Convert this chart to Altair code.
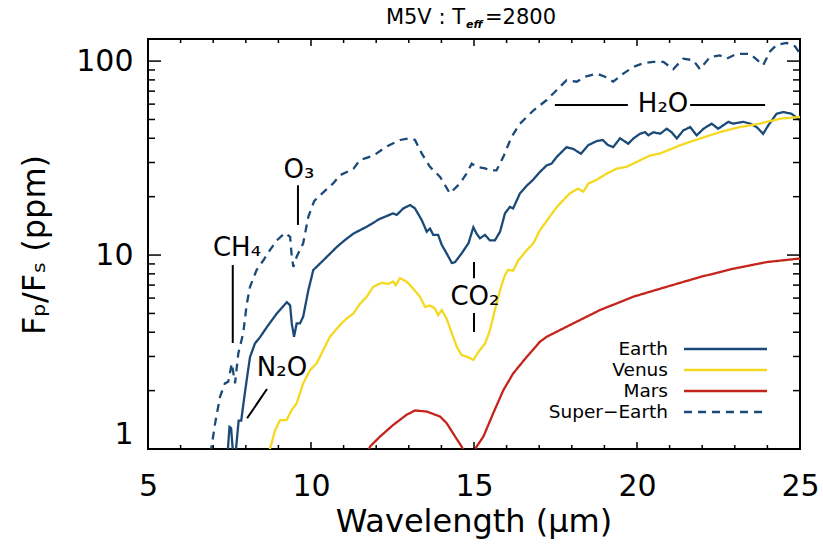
import altair as alt
import pandas as pd

FONT = "DejaVu Sans"

# ---------------- data ----------------
earth_x = [7.42, 7.50, 7.55, 7.63, 7.70, 7.78, 7.86, 7.93, 8.04, 8.13, 8.28, 8.44, 8.65, 8.96, 9.26, 9.36,
           9.41, 9.48, 9.56, 9.66, 9.76, 9.92, 10.07, 10.38, 10.79, 11.00, 11.30, 11.71, 12.12, 12.52, 12.63,
           12.83, 13.04, 13.19, 13.40, 13.55, 13.65, 13.75, 13.90, 14.01, 14.16, 14.32, 14.42, 14.62, 14.83,
           14.98, 15.08, 15.18, 15.34, 15.49, 15.64, 15.80, 15.95, 16.10, 16.20, 16.41, 16.62, 16.82, 17.02,
           17.23, 17.38, 17.54, 17.84, 18.05, 18.28, 18.50, 18.76, 18.95, 19.10, 19.27, 19.48, 19.73, 19.89,
           20.09, 20.25, 20.35, 20.50, 20.71, 20.91, 21.06, 21.22, 21.42, 21.63, 21.83, 22.04, 22.29, 22.49,
           22.80, 22.95, 23.26, 23.47, 23.67, 23.87, 24.03, 24.28, 24.49, 24.74, 25.00]
earth_y = [0.85, 1.30, 1.28, 0.85, 1.00, 1.40, 1.40, 1.73, 2.35, 2.98, 3.50, 3.78, 4.26, 5.02, 5.72, 5.50,
           4.44, 3.79, 4.44, 4.44, 4.81, 6.60, 8.37, 9.40, 11.0, 11.8, 12.9, 14.0, 15.4, 16.4, 16.1,
           17.4, 18.1, 17.4, 15.1, 13.2, 13.7, 12.7, 12.7, 11.3, 10.2, 9.1, 9.2, 10.2, 11.5,
           13.9, 12.9, 12.2, 12.7, 11.9, 11.9, 13.2, 16.4, 17.7, 17.4, 20.8, 22.8, 24.5, 26.8,
           29.0, 29.6, 32.1, 36.0, 35.2, 33.3, 36.8, 38.7, 39.2, 37.0, 36.0, 40.0, 37.5, 39.9,
           42.2, 43.0, 41.4, 43.0, 42.2, 44.8, 43.0, 39.9, 43.9, 45.7, 41.4, 44.8, 47.6, 44.8,
           48.6, 47.6, 48.6, 47.6, 45.7, 42.2, 46.7, 53.5, 54.6, 53.5, 49.6]

venus_x = [8.72, 8.74, 8.90, 9.05, 9.25, 9.41, 9.56, 9.76, 9.97, 10.17, 10.38, 10.58, 10.89, 11.09, 11.30,
           11.50, 11.71, 11.91, 12.17, 12.37, 12.52, 12.60, 12.73, 12.93, 13.14, 13.34, 13.50, 13.65, 13.80,
           13.90, 14.01, 14.16, 14.32, 14.47, 14.62, 14.83, 14.98, 15.14, 15.34, 15.49, 15.64, 15.80, 15.95,
           16.05, 16.20, 16.36, 16.62, 16.82, 17.02, 17.54, 17.94, 18.20, 18.35, 18.51, 18.76, 19.07, 19.38,
           19.68, 19.99, 20.40, 20.71, 21.32, 21.93, 22.54, 23.16, 23.77, 24.39, 25.00]
venus_y = [0.95, 1.00, 1.25, 1.41, 1.41, 1.59, 1.72, 2.18, 2.55, 2.76, 3.24, 3.79, 4.36, 4.70, 5.00,
           5.60, 6.10, 6.86, 7.20, 7.10, 7.30, 7.00, 7.60, 7.30, 6.70, 6.10, 5.40, 5.50, 5.30,
           4.90, 5.20, 4.70, 3.95, 3.37, 3.05, 2.97, 2.88, 3.17, 3.50, 4.10, 5.20, 6.60, 7.90,
           8.40, 8.30, 9.40, 10.6, 11.5, 13.4, 17.7, 20.8, 22.0, 21.2, 23.4, 24.4, 26.3, 27.9,
           28.5, 30.2, 32.6, 33.4, 36.8, 39.9, 43.0, 45.7, 47.6, 50.5, 51.5]

mars_x = [11.70, 11.81, 12.12, 12.52, 12.93, 13.19, 13.55, 13.96, 14.16, 14.42, 14.62, 14.75, 14.88, 15.00,
          15.03, 15.29, 15.59, 15.90, 16.20, 16.62, 17.02, 17.23, 17.84, 18.86, 19.89, 20.91, 21.93, 22.95,
          23.98, 25.00]
mars_y = [0.90, 1.03, 1.16, 1.33, 1.50, 1.58, 1.56, 1.47, 1.36, 1.16, 1.03, 0.93, 0.90, 0.97,
          1.00, 1.16, 1.53, 2.01, 2.45, 2.99, 3.57, 3.79, 4.27, 5.20, 6.10, 6.86, 7.70, 8.50,
          9.20, 9.60]

super_x = [6.92, 6.95, 7.06, 7.21, 7.36, 7.46, 7.57, 7.67, 7.77, 7.92, 8.03, 8.13, 8.33, 8.54, 8.74, 8.95,
           9.20, 9.36, 9.41, 9.46, 9.56, 9.76, 9.92, 10.10, 10.30, 10.68, 10.89, 11.30, 11.50, 11.91, 12.32,
           12.73, 13.04, 13.19, 13.40, 13.65, 13.96, 14.26, 14.57, 14.77, 14.93, 15.08, 15.34, 15.49, 15.69,
           15.90, 16.15, 16.41, 16.82, 17.23, 17.54, 17.84, 18.15, 18.40, 18.76, 19.02, 19.27, 19.58, 19.89,
           20.19, 20.50, 20.81, 21.11, 21.42, 21.73, 21.93, 22.24, 22.54, 22.75, 23.06, 23.47, 23.87, 24.08,
           24.28, 24.59, 24.85, 25.00]
super_y = [0.95, 1.03, 1.36, 1.86, 2.18, 2.22, 2.76, 2.18, 3.11, 3.95, 5.60, 6.86, 8.37, 9.40, 10.6, 11.9,
           13.0, 12.4, 9.8, 8.7, 9.8, 11.5, 15.8, 19.0, 20.5, 23.4, 25.8, 27.8, 30.9, 32.5, 36.3,
           39.2, 40.0, 39.2, 33.3, 28.5, 25.3, 20.8, 23.4, 26.3, 29.6, 28.5, 28.0, 27.3, 27.3,
           32.1, 40.6, 47.6, 55.6, 63.0, 71.0, 79.8, 78.3, 83.0, 86.2, 83.0, 78.3, 86.2, 93.3,
           97.5, 99.0, 99.0, 90.8, 103, 101, 90.8, 105, 107, 103, 109, 109, 95.2, 112,
           121, 124, 119, 109]

planets = ["Earth", "Venus", "Mars", "Super\u2212Earth"]
colors = ["#1c4a78", "#f5d820", "#c4241c", "#1c4a78"]
dashes = [[1, 0], [1, 0], [1, 0], [8, 6]]

x_major = [5, 10, 15, 20, 25]
x_minor = [6, 7, 8, 9, 11, 12, 13, 14, 16, 17, 18, 19, 21, 22, 23, 24]
y_major = [1, 10, 100]
y_minor = [2, 3, 4, 5, 6, 7, 8, 9, 20, 30, 40, 50, 60, 70, 80, 90]

# annotations: labels and their pointer lines (data coordinates)
ann_text = ["CH\u2084", "N\u2082O", "O\u2083", "CO\u2082", "H\u2082O"]
ann_tx = [7.73, 9.11, 9.63, 15.03, 20.80]
ann_ty = [10.9, 2.62, 27.4, 6.07, 59.9]
seg_x1 = [7.60, 8.65, 9.60, 15.0, 15.0, 17.48, 21.63]
seg_x2 = [7.60, 8.04, 9.60, 15.0, 15.0, 19.72, 23.93]
seg_y1 = [8.88, 2.04, 22.9, 9.2, 5.02, 59.3, 59.3]
seg_y2 = [3.52, 1.44, 14.3, 7.6, 4.01, 59.3, 59.3]

# ---------------- build ----------------
W, H = 652, 410
xs = alt.Scale(domain=[5, 25], nice=False, zero=False)
ys = alt.Scale(type="log", domain=[1, 130], nice=False)
AX = alt.Axis(values=x_major, labelFontSize=30, labelFont=FONT, labelColor="black", ticks=False,
              tickSize=0, domain=False, grid=False, labelPadding=22, labelFlush=False, title=None)
AY = alt.Axis(values=y_major, format="d", labelFontSize=30, labelFont=FONT, labelColor="black",
              ticks=False, tickSize=0, domain=False, grid=False, labelPadding=15, labelFlush=True,
              title=None)


def X(f):
    return alt.X(f, scale=xs, axis=AX)


def Y(f):
    return alt.Y(f, scale=ys, axis=AY)


rows = []
for name, xv, yv in zip(planets, [earth_x, venus_x, mars_x, super_x], [earth_y, venus_y, mars_y, super_y]):
    for a, b in zip(xv, yv):
        rows.append({"planet": name, "wl": a, "f": b})
df = pd.DataFrame(rows)

lines = alt.Chart(df).mark_line(strokeWidth=2.3, clip=True).encode(
    x=X("wl:Q"),
    y=Y("f:Q"),
    color=alt.Color("planet:N", scale=alt.Scale(domain=planets, range=colors), legend=None),
    strokeDash=alt.StrokeDash("planet:N", scale=alt.Scale(domain=planets, range=dashes), legend=None),
    order=alt.Order("wl:Q"),
)


# inward ticks
def xticks(vals, length):
    d = pd.DataFrame({"wl": vals})
    b = alt.Chart(d).mark_rule(color="black", strokeWidth=1.5).encode(
        x=X("wl:Q"), y=alt.value(H), y2=alt.value(H - length))
    t = alt.Chart(d).mark_rule(color="black", strokeWidth=1.5).encode(
        x=X("wl:Q"), y=alt.value(0), y2=alt.value(length))
    return [b, t]


def yticks(vals, length):
    d = pd.DataFrame({"f": vals})
    l = alt.Chart(d).mark_rule(color="black", strokeWidth=1.5).encode(
        y=Y("f:Q"), x=alt.value(0), x2=alt.value(length))
    r = alt.Chart(d).mark_rule(color="black", strokeWidth=1.5).encode(
        y=Y("f:Q"), x=alt.value(W), x2=alt.value(W - length))
    return [l, r]


tick_layers = xticks(x_major, 7) + xticks(x_minor, 4) + yticks(y_major, 13) + yticks(y_minor, 7)

seg_df = pd.DataFrame({"wl": seg_x1, "wl2": seg_x2, "f": seg_y1, "f2": seg_y2})
segs = alt.Chart(seg_df).mark_rule(color="black", strokeWidth=2).encode(
    x=X("wl:Q"), x2="wl2:Q", y=Y("f:Q"), y2="f2:Q")

ann_df = pd.DataFrame({"t": ann_text, "wl": ann_tx, "f": ann_ty})
ann = alt.Chart(ann_df).mark_text(font=FONT, fontSize=26, color="black", align="center",
                                  baseline="middle").encode(
    x=X("wl:Q"), y=Y("f:Q"), text="t:N")

# legend (manual)
legend_layers = []
for i, (name, col, dsh) in enumerate(zip(planets, colors, dashes)):
    yy = 310 + i * 21
    one = pd.DataFrame({"t": [name]})
    legend_layers.append(alt.Chart(one).mark_text(font=FONT, fontSize=18.5, color="black", align="right",
                                                  baseline="middle").encode(
        x=alt.value(520), y=alt.value(yy), text="t:N"))
    legend_layers.append(alt.Chart(one).mark_rule(color=col, strokeWidth=2.3, strokeDash=dsh).encode(
        x=alt.value(536), x2=alt.value(619), y=alt.value(yy)))


# titles
def txt(s, x, y, size, align="center", baseline="alphabetic", angle=0, weight="normal", style="normal"):
    kw = dict(font=FONT, fontSize=size, color="black", align=align, baseline=baseline,
              fontWeight=weight, fontStyle=style)
    if angle:
        kw["angle"] = angle
    return alt.Chart(pd.DataFrame({"t": [s]})).mark_text(**kw).encode(
        x=alt.value(x), y=alt.value(y), text="t:N")


title_layers = [
    txt("M5V : T", 317, -15, 21, align="right"),
    txt("eff", 318, -11, 11, align="left", weight="bold", style="italic"),
    txt("=2800", 337, -15, 21, align="left"),
    txt("Wavelength (\u03bcm)", 326, 493, 32),
    txt("F\u209a/F\u209b (ppm)", -113, 206, 32, baseline="middle", angle=270),
]

chart = alt.layer(lines, segs, ann, *tick_layers, *legend_layers, *title_layers).properties(
    width=W, height=H,
    padding={"left": 148, "top": 39, "right": 23, "bottom": 95},
    autosize=alt.AutoSizeParams(type="none"),
    background="white",
).configure_view(stroke="black", strokeWidth=2)

chart.save("out.html", embed_options={"renderer": "svg", "actions": False})
